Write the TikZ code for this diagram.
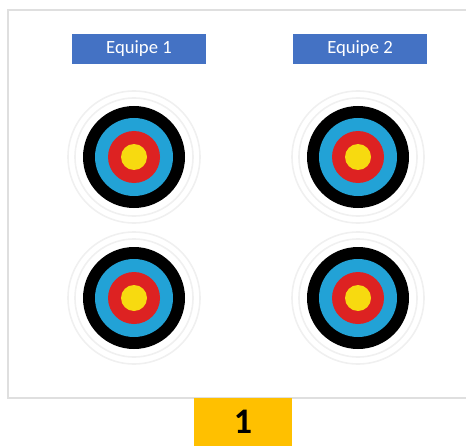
\documentclass[tikz,border=0pt]{standalone}
\usepackage{fontspec}
\setmainfont{Carlito}
\usepackage{xcolor}
\usepackage{tikz}
\usetikzlibrary{positioning}

\definecolor{equipeblue}{HTML}{4472C4}
\definecolor{cibleblue}{HTML}{22A2D6}
\definecolor{ciblered}{HTML}{DD2222}
\definecolor{cibleyellow}{HTML}{F7DA10}
\definecolor{scoreorange}{HTML}{FFC000}

\tikzset{
  equipe/.style={fill=equipeblue, text=white, minimum width=100.5pt, minimum height=22.5pt,
    inner sep=0pt, font=\fontsize{14}{16}\selectfont},
  score/.style={fill=scoreorange, minimum width=73.5pt, minimum height=36pt,
    inner sep=0pt, font=\fontsize{27}{30}\selectfont\bfseries},
  ring/.style={draw=gray!12, line width=1.2}
}

% one target: outer pale rings, then black, blue, red, yellow
\newcommand{\cible}[1]{%
  \draw[ring] (#1) circle (66);
  \draw[ring] (#1) circle (59);
  \fill[black]       (#1) circle (51);
  \fill[cibleblue]   (#1) circle (39);
  \fill[ciblered]    (#1) circle (26);
  \fill[cibleyellow] (#1) circle (13);
}

\begin{document}
\begin{tikzpicture}[x=0.75pt, y=-0.75pt]
  \useasboundingbox (0,0) rectangle (466,445);

  % frame
  \draw[gray!25, line width=1.5] (8,10) rectangle (470,398);

  \node[equipe] (eq1) at (139,49) {Equipe 1};
  \node[equipe] (eq2) at (360,49) {Equipe 2};

  \coordinate (c1) at (134,157);
  \coordinate (c2) at (358,157);
  \coordinate (c3) at (134,298);
  \coordinate (c4) at (358,298);

  \cible{c1}
  \cible{c2}
  \cible{c3}
  \cible{c4}

  \node[score, anchor=north] (num) at (243,398) {1};
\end{tikzpicture}
\end{document}
